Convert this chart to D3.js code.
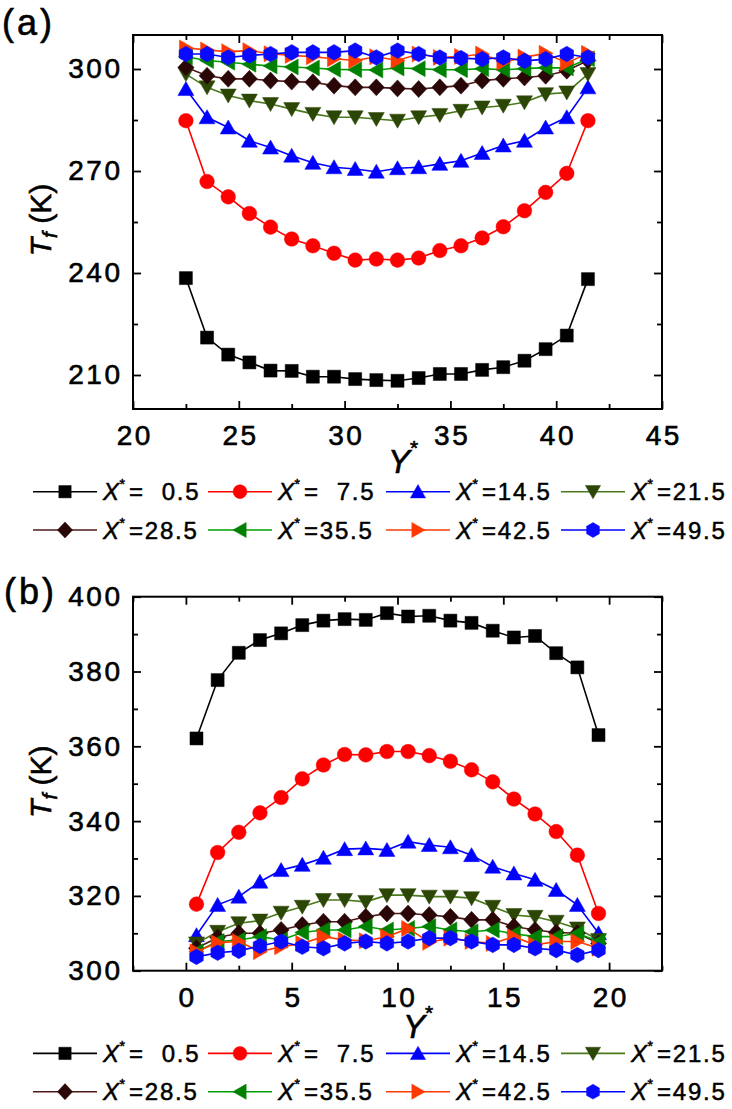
<!DOCTYPE html>
<html><head><meta charset="utf-8">
<script src="https://cdn.jsdelivr.net/npm/d3@7"></script>
<style>
html,body{margin:0;padding:0;background:#fff;}
svg{display:block;font-family:"Liberation Sans",Arial,Helvetica,sans-serif;}
</style></head><body>
<svg id="chart" width="732" height="1109"></svg>
<script>
// ---------------- DATA ----------------
const yStarA = [22.5,23.5,24.5,25.5,26.5,27.5,28.5,29.5,30.5,31.5,32.5,33.5,34.5,35.5,36.5,37.5,38.5,39.5,40.5,41.5];
const yStarB = [0.5,1.5,2.5,3.5,4.5,5.5,6.5,7.5,8.5,9.5,10.5,11.5,12.5,13.5,14.5,15.5,16.5,17.5,18.5,19.5];

const seriesLabels = ["  0.5", "  7.5", "14.5", "21.5", "28.5", "35.5", "42.5", "49.5"];

// Panel (a): Tf (K) vs Y*
const a_X0_5  = [238.5,221.0,216.0,213.7,211.3,211.2,209.5,209.5,208.8,208.5,208.3,209.1,210.3,210.3,211.5,212.3,214.2,217.6,221.6,238.2];
const a_X7_5  = [284.8,266.9,262.4,257.5,253.5,250.0,248.0,245.8,243.8,244.1,243.8,244.4,246.6,248.0,250.3,253.6,258.3,263.7,269.3,284.8];
const a_X14_5 = [294.1,285.8,282.8,278.9,276.9,274.5,272.4,271.1,270.6,269.8,270.8,271.1,272.1,273.0,275.3,277.5,278.9,282.8,285.8,294.6];
const a_X21_5 = [298.5,294.6,292.2,290.7,289.7,288.2,286.8,285.8,285.8,285.3,284.8,285.8,286.5,287.7,288.7,289.2,290.2,292.6,293.1,298.5];
const a_X28_5 = [300.5,298.0,297.1,297.1,296.6,296.3,296.1,295.1,294.6,294.6,294.3,294.1,294.6,295.1,296.6,297.1,297.5,298.0,299.5,302.5];
const a_X35_5 = [303.6,302.5,302.0,301.4,300.9,300.6,300.3,299.9,299.8,299.7,300.3,300.1,299.8,299.8,300.1,299.8,300.1,300.4,300.3,303.0];
const a_X42_5 = [306.2,305.6,305.1,305.4,304.5,304.0,303.6,303.0,302.5,303.6,302.5,304.4,303.4,303.7,304.4,302.0,303.5,304.6,301.8,304.6];
const a_X49_5 = [304.4,304.4,303.4,304.0,304.4,304.9,304.9,304.9,305.4,303.4,305.4,304.4,303.4,303.2,302.9,303.4,302.4,302.9,304.4,303.4];

// Panel (b): Tf (K) vs Y*
const b_X0_5  = [362.1,377.7,385.0,388.4,390.2,392.4,393.6,394.0,393.8,395.6,394.7,394.9,393.6,393.0,390.9,389.1,389.5,384.9,381.1,363.0];
const b_X7_5  = [317.8,331.6,337.0,342.2,346.3,351.3,355.0,357.8,357.7,358.6,358.6,357.5,356.0,353.7,350.5,345.9,341.9,337.2,330.9,315.3];
const b_X14_5 = [309.5,317.6,319.8,323.8,326.9,328.3,330.2,332.5,332.7,332.3,334.5,333.6,333.0,330.9,327.8,326.0,324.3,321.6,317.6,310.0];
const b_X21_5 = [307.3,310.4,312.7,313.4,315.5,317.1,318.9,318.9,318.4,320.2,320.2,319.8,319.8,319.4,317.1,314.9,314.4,313.1,311.3,308.2];
const b_X28_5 = [306.0,308.9,310.0,310.0,310.9,312.2,313.1,313.1,314.4,315.3,315.3,314.9,314.4,313.6,313.6,311.8,310.9,310.2,310.0,307.3];
const b_X35_5 = [305.1,307.8,308.2,309.1,308.2,310.2,310.9,310.9,311.8,310.9,311.3,311.8,310.9,310.4,310.9,309.9,309.1,309.1,310.0,307.8];
const b_X42_5 = [305.1,307.5,307.8,305.1,306.4,307.3,309.1,308.2,308.0,309.1,311.3,307.6,308.7,307.8,307.3,309.1,306.9,307.8,307.8,306.0];
const b_X49_5 = [303.7,304.8,305.3,306.6,307.8,306.4,306.0,307.3,307.8,307.3,307.8,308.7,308.7,307.8,306.9,306.9,306.0,305.5,304.2,305.5];

// tick values
const xMajorA = [20,25,30,35,40,45];
const xMinorA = [22.5,27.5,32.5,37.5,42.5];
const yMajorA = [210,240,270,300];
const yMinorA = [225,255,285];
const xMajorB = [0,5,10,15,20];
const xMinorB = [-2.5,2.5,7.5,12.5,17.5,22.5];
const yMajorB = [300,320,340,360,380,400];
const yMinorB = [310,330,350,370,390];

// ---------------- STYLE ----------------
const styles = [
  {shape:"square",  line:"#000000", fill:"#000000"},
  {shape:"circle",  line:"#ff0000", fill:"#ff0000"},
  {shape:"up",      line:"#0000ff", fill:"#0000ff"},
  {shape:"down",    line:"#4a7a1c", fill:"#2c4606"},
  {shape:"diamond", line:"#4e1818", fill:"#2a0606"},
  {shape:"left",    line:"#00a000", fill:"#008000"},
  {shape:"right",   line:"#ff3a00", fill:"#ff3a00"},
  {shape:"hex",     line:"#0000ff", fill:"#0a0aff"}
];
function markerPath(shape){
  switch(shape){
    case "square": return "M-6.5,-6.5H6.5V6.5H-6.5Z";
    case "circle": return d3.symbol(d3.symbolCircle, Math.PI*7.3*7.3)();
    case "up": return "M0,-7.5L8,6.5H-8Z";
    case "down": return "M0,7.5L8,-6.5H-8Z";
    case "diamond": return "M0,-8.5L8,0L0,8.5L-8,0Z";
    case "left": return "M-7.5,0L6.5,-8V8Z";
    case "right": return "M7.5,0L-6.5,-8V8Z";
    case "hex": {
      const r = 7.8, pts = [];
      for (let k=0;k<6;k++){ const t = Math.PI/180*(-90+60*k); pts.push([r*Math.cos(t), r*Math.sin(t)]); }
      return "M" + pts.map(p=>p[0].toFixed(2)+","+p[1].toFixed(2)).join("L") + "Z";
    }
  }
}

const svg = d3.select("#chart");
svg.append("rect").attr("width",732).attr("height",1109).attr("fill","#fff");
const FONT = '"Liberation Sans",Arial,Helvetica,sans-serif';
const L = 133, R = 662;
function heavy(sel, w){ return sel.attr("stroke","#000").attr("stroke-width", w).attr("paint-order","stroke"); }

function drawPanel(p){
  const x = d3.scaleLinear().domain(p.xDomain).range([L, R]);
  const y = d3.scaleLinear().domain(p.yDomain).range([p.bottom, p.top]);
  const g = svg.append("g");

  // ticks
  const sides = [
    [d3.axisBottom, x, `translate(0,${p.bottom})`, p.xMajor, p.xMinor, true],
    [d3.axisTop, x, `translate(0,${p.top})`, p.xMajor, p.xMinor, false],
    [d3.axisLeft, y, `translate(${L},0)`, p.yMajor, p.yMinor, true],
    [d3.axisRight, y, `translate(${R},0)`, p.yMajor, p.yMinor, false]
  ];
  sides.forEach(([axFn, sc, tr, major, minor, labels])=>{
    const gm = g.append("g").attr("transform", tr)
      .call(axFn(sc).tickValues(minor).tickSize(-5).tickFormat(""));
    gm.select(".domain").remove();
    gm.selectAll("line").attr("stroke","#000").attr("stroke-width",1.8);
    const isX = (axFn === d3.axisBottom);
    const ax = axFn(sc).tickValues(major).tickSize(-8)
      .tickPadding(isX ? 16 : 10.5)
      .tickFormat(labels ? d3.format("d") : "");
    const gM = g.append("g").attr("transform", tr).call(ax);
    gM.select(".domain").remove();
    gM.selectAll("line").attr("stroke","#000").attr("stroke-width",1.8);
    gM.attr("font-family", FONT).attr("font-size", 28);
    heavy(gM.selectAll("text").attr("fill","#000").style("letter-spacing","2.5px"), 0.6);
    if (isX) gM.selectAll("text").attr("dx", "1.25");
  });

  // frame
  g.append("rect").attr("x", L).attr("y", p.top).attr("width", R-L).attr("height", p.bottom-p.top)
    .attr("fill","none").attr("stroke","#000").attr("stroke-width",2);

  // series
  const line = d3.line().x((d,i)=>x(p.xs[i])).y(d=>y(d));
  p.series.forEach((vals, si)=>{
    const st = styles[si];
    const sg = g.append("g");
    sg.append("path").attr("d", line(vals)).attr("fill","none")
      .attr("stroke", st.line).attr("stroke-width",1.6);
    sg.selectAll("path.m").data(vals).join("path").attr("class","m")
      .attr("d", markerPath(st.shape))
      .attr("transform",(d,i)=>`translate(${x(p.xs[i])},${y(d)})`)
      .attr("fill", st.fill).attr("stroke", st.fill).attr("stroke-width",0.5);
  });

  // panel label
  heavy(svg.append("text").attr("x", p.labelX).attr("y", p.labelY)
    .attr("font-family", FONT).attr("font-size", 36).style("letter-spacing","3px")
    .text(p.label), 0.6);

  // x title Y*
  const xt = svg.append("text").attr("x", p.xTitleX).attr("y", p.xTitleY)
    .attr("font-family", FONT).attr("text-anchor","middle");
  xt.append("tspan").attr("font-size",33).attr("font-style","italic").text("Y");
  xt.append("tspan").attr("font-size",21).attr("dy",-18).text("*");
  heavy(xt, 0.6);

  // y title Tf (K)
  const yt = svg.append("text")
    .attr("transform", `translate(51,${p.top + 185}) rotate(-90)`)
    .attr("font-family", FONT).attr("font-size",30).attr("text-anchor","middle")
    .attr("xml:space","preserve").style("white-space","pre");
  yt.append("tspan").attr("font-style","italic").text("T");
  yt.append("tspan").attr("font-style","italic").attr("font-size",21).attr("dy",6).text("f");
  yt.append("tspan").attr("dy",-6).text(" (K)");
  heavy(yt, 0.6);

  // legend
  const legX = [33, 208, 386, 561];
  const rows = [p.bottom + 82.7, p.bottom + 121];
  seriesLabels.forEach((lab, si)=>{
    const st = styles[si];
    const x0 = legX[si % 4], cy = rows[Math.floor(si/4)];
    const lg = svg.append("g");
    lg.append("line").attr("x1", x0).attr("x2", x0+64).attr("y1", cy).attr("y2", cy)
      .attr("stroke", st.line).attr("stroke-width",1.6);
    lg.append("path").attr("d", markerPath(st.shape))
      .attr("transform", `translate(${x0+32},${cy}) scale(0.95)`)
      .attr("fill", st.fill).attr("stroke", st.fill).attr("stroke-width",0.5);
    const t = lg.append("text").attr("x", x0+70).attr("y", cy+8.5)
      .attr("font-family", FONT).attr("font-size",24)
      .attr("xml:space","preserve").style("white-space","pre");
    t.append("tspan").attr("font-style","italic").text("X");
    t.append("tspan").attr("font-size",14).attr("dy",-11).attr("dx",0.5).text("*");
    t.append("tspan").attr("dy",11).attr("dx",4).style("letter-spacing","1.8px").text("=" + lab);
    heavy(t, 0.5);
  });
}

drawPanel({
  top: 35, bottom: 409, xDomain:[20,45], yDomain:[200,310],
  xMajor: xMajorA, xMinor: xMinorA, yMajor: yMajorA, yMinor: yMinorA,
  xs: yStarA, series:[a_X0_5,a_X7_5,a_X14_5,a_X21_5,a_X28_5,a_X35_5,a_X42_5,a_X49_5],
  label:"(a)", labelX: 2, labelY: 35, xTitleX: 403, xTitleY: 473
});
drawPanel({
  top: 596.7, bottom: 970.7, xDomain:[-2.5,22.5], yDomain:[300,400],
  xMajor: xMajorB, xMinor: xMinorB, yMajor: yMajorB, yMinor: yMinorB,
  xs: yStarB, series:[b_X0_5,b_X7_5,b_X14_5,b_X21_5,b_X28_5,b_X35_5,b_X42_5,b_X49_5],
  label:"(b)", labelX: 4, labelY: 604, xTitleX: 418, xTitleY: 1038
});
</script>
</body></html>
